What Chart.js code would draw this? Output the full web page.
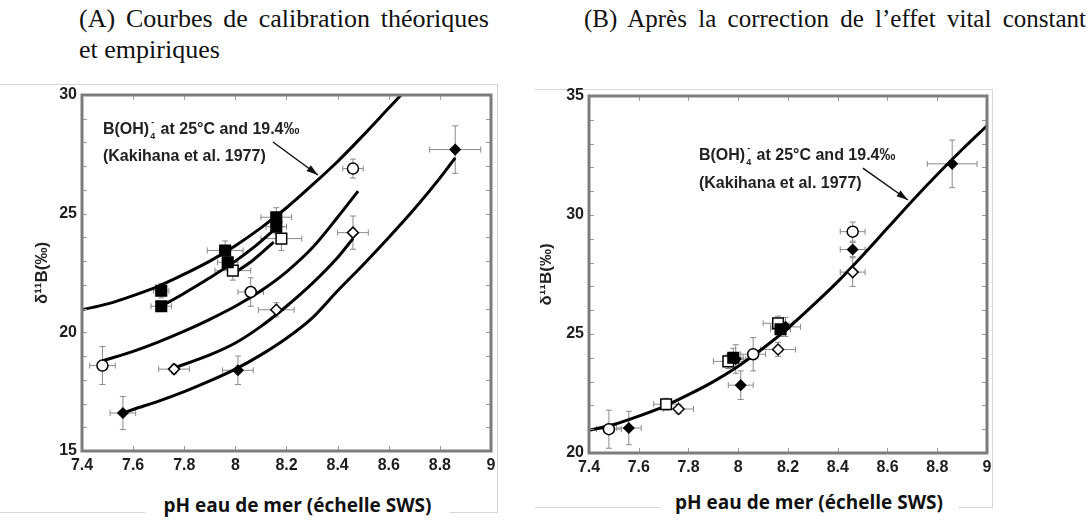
<!DOCTYPE html>
<html>
<head>
<meta charset="utf-8">
<script src="https://cdn.jsdelivr.net/npm/chart.js@4.4.0/dist/chart.umd.min.js"></script>
<style>
  body { margin: 0; width: 1091px; height: 521px; background: #fff; position: relative; overflow: hidden; }
  .titre { position: absolute; font-family: "Liberation Serif", "Times New Roman", serif; color: #111; line-height: 31px; white-space: nowrap; }
  .just { text-align: justify; text-align-last: justify; }
  .cadre { position: absolute; border: 1px solid #d6d6d6; }
  .xt { position: absolute; background: #fff; font-family: "Open Sans", sans-serif; font-weight: 700; font-size: 19px; color: #111; text-align: center; height: 30px; line-height: 30px; }
  canvas { position: absolute; }
</style>
</head>
<body>
<div class="titre just" style="left:79px; top:3px; width:410px; font-size:26px;">(A) Courbes de calibration théoriques</div>
<div class="titre" style="left:79px; top:34px; font-size:26px;">et empiriques</div>
<div class="titre just" style="left:584px; top:3px; width:502px; font-size:25px;">(B) Après la correction de l’effet vital constant</div>

<div class="cadre" style="left:-1px; top:84px; width:498px; height:427px; border-left:none;"></div>
<div class="cadre" style="left:535px; top:89px; width:457px; height:417px; border-left:none;"></div>

<canvas id="gA" width="540" height="400" style="left:0; top:80px;"></canvas>
<canvas id="gB" width="551" height="400" style="left:540px; top:80px;"></canvas>

<div class="xt" style="left:145px; top:490px; width:305px;">pH eau de mer (échelle SWS)</div>
<div class="xt" style="left:660px; top:487px; width:298px;">pH eau de mer (échelle SWS)</div>

<script>
// ========= Axes =========
const xTicks = [7.4, 7.6, 7.8, 8, 8.2, 8.4, 8.6, 8.8, 9];
const yTicksA = [15, 20, 25, 30];
const yTicksB = [20, 25, 30, 35];

// ========= Courbe théorique B(OH)4- (Kakihana et al. 1977) =========
const kakPH = [7.4, 7.5, 7.6, 7.7, 7.8, 7.9, 8.0, 8.1, 8.2, 8.3, 8.4, 8.5, 8.6, 8.7, 8.8, 8.9, 9.0];
const kakD11B = [20.95, 21.2, 21.55, 21.95, 22.45, 23.0, 23.65, 24.4, 25.25, 26.2, 27.2, 28.3, 29.45, 30.6, 31.7, 32.75, 33.75];

// ========= (A) courbes empiriques =========
const cCarrePH = [7.71, 7.8, 7.9, 8.0, 8.08, 8.16];
const cCarreD = [21.1, 21.65, 22.3, 23.0, 23.65, 24.4];
const cCarreVidePH = [7.99, 8.07, 8.15];
const cCarreVideD = [22.45, 23.05, 23.8];
const cRondPH = [7.48, 7.6, 7.7, 7.8, 7.9, 8.0, 8.1, 8.2, 8.3, 8.4, 8.48];
const cRondD = [18.8, 19.2, 19.6, 20.05, 20.55, 21.1, 21.75, 22.55, 23.55, 24.85, 25.95];
const cLosVidePH = [7.76, 7.9, 8.0, 8.1, 8.2, 8.3, 8.4, 8.46];
const cLosVideD = [18.5, 19.05, 19.55, 20.25, 21.1, 22.05, 23.15, 23.95];
const cLosPleinPH = [7.56, 7.6, 7.7, 7.8, 7.9, 8.0, 8.1, 8.2, 8.3, 8.4, 8.5, 8.6, 8.7, 8.8, 8.86];
const cLosPleinD = [16.6, 16.75, 17.1, 17.5, 17.95, 18.45, 19.05, 19.75, 20.6, 21.75, 22.85, 24.0, 25.2, 26.5, 27.35];

// ========= (A) mesures (valeur, erreur x, erreur y) =========
const aLosPleinPH = [7.56, 8.01, 8.86];
const aLosPleinD = [16.6, 18.4, 27.7];
const aLosPleinEx = [0.05, 0.06, 0.1];
const aLosPleinEy = [0.7, 0.6, 1.0];

const aRondPH = [7.48, 8.06, 8.46];
const aRondD = [18.6, 21.7, 26.9];
const aRondEx = [0.05, 0.05, 0.04];
const aRondEy = [0.8, 0.6, 0.4];

const aLosVidePH = [7.76, 8.16, 8.46];
const aLosVideD = [18.45, 20.95, 24.2];
const aLosVideEx = [0.06, 0.07, 0.06];
const aLosVideEy = [0.2, 0.3, 0.7];

const aCarreHautPH = [7.71, 7.96, 8.16];
const aCarreHautD = [21.75, 23.45, 24.85];
const aCarreHautEx = [0.03, 0.07, 0.06];
const aCarreHautEy = [0.3, 0.4, 0.4];

const aCarreBasPH = [7.71, 7.97, 8.16];
const aCarreBasD = [21.1, 22.95, 24.45];
const aCarreBasEx = [0.04, 0.04, 0.04];
const aCarreBasEy = [0.2, 0.3, 0.3];

const aCarreVidePH = [7.99, 8.18];
const aCarreVideD = [22.6, 23.95];
const aCarreVideEx = [0.07, 0.08];
const aCarreVideEy = [0.4, 0.5];

// ========= (B) mesures corrigées =========
const bLosPleinPH = [7.56, 7.99, 8.01, 8.19, 8.46, 8.86];
const bLosPleinD = [21.05, 23.95, 22.85, 25.3, 28.55, 32.15];
const bLosPleinEx = [0.05, 0.04, 0.05, 0.06, 0.05, 0.1];
const bLosPleinEy = [0.7, 0.6, 0.6, 0.4, 0.3, 1.0];

const bRondPH = [7.48, 8.06, 8.46];
const bRondD = [21.0, 24.15, 29.3];
const bRondEx = [0.05, 0.05, 0.05];
const bRondEy = [0.8, 0.7, 0.4];

const bLosVidePH = [7.76, 8.16, 8.46];
const bLosVideD = [21.85, 24.35, 27.6];
const bLosVideEx = [0.06, 0.07, 0.05];
const bLosVideEy = [0.2, 0.3, 0.6];

const bCarrePleinPH = [7.98, 8.17];
const bCarrePleinD = [24.0, 25.2];
const bCarrePleinEx = [0.04, 0.04];
const bCarrePleinEy = [0.4, 0.3];

const bCarreVidePH = [7.71, 7.96, 8.16];
const bCarreVideD = [22.05, 23.85, 25.45];
const bCarreVideEx = [0.05, 0.06, 0.06];
const bCarreVideEy = [0.25, 0.3, 0.3];

// ========= Styles des marqueurs =========
const LOS_PLEIN = { forme: "rectRot", r: 5, plein: true };
const LOS_VIDE = { forme: "rectRot", r: 5.5, plein: false };
const ROND = { forme: "circle", r: 5.5, plein: false };
const CARRE_PLEIN = { forme: "rect", r: 7.5, plein: true };
const CARRE_VIDE = { forme: "rect", r: 7.5, plein: false };

const POLICE = "'Liberation Sans', Arial, sans-serif";

// série de points avec barres d'erreur
function serie(xs, ys, ex, ey, st) {
  return {
    data: xs.map((x, i) => ({ x, y: ys[i] })),
    ex, ey,
    showLine: false,
    pointStyle: st.forme,
    pointRadius: st.r,
    pointBackgroundColor: st.plein ? "#000" : "#fff",
    pointBorderColor: "#000",
    pointBorderWidth: 1.5,
  };
}

// courbe lissée
function courbe(xs, ys) {
  return {
    data: xs.map((x, i) => ({ x, y: ys[i] })),
    showLine: true,
    borderColor: "#000",
    borderWidth: 3,
    pointRadius: 0,
    cubicInterpolationMode: "monotone",
    fill: false,
  };
}

// ========= Plugins : barres d'erreur, cadre, annotation =========
const barresErreur = {
  id: "barresErreur",
  beforeDatasetsDraw(chart) {
    const { ctx, scales: { x, y } } = chart;
    ctx.save();
    ctx.strokeStyle = "#8a8a8a";
    ctx.lineWidth = 1;
    chart.data.datasets.forEach((ds) => {
      if (!ds.ex) return;
      ds.data.forEach((p, i) => {
        const px = x.getPixelForValue(p.x), py = y.getPixelForValue(p.y);
        const x0 = x.getPixelForValue(p.x - ds.ex[i]), x1 = x.getPixelForValue(p.x + ds.ex[i]);
        const y0 = y.getPixelForValue(p.y - ds.ey[i]), y1 = y.getPixelForValue(p.y + ds.ey[i]);
        ctx.beginPath();
        ctx.moveTo(x0, py); ctx.lineTo(x1, py);
        ctx.moveTo(x0, py - 3); ctx.lineTo(x0, py + 3);
        ctx.moveTo(x1, py - 3); ctx.lineTo(x1, py + 3);
        ctx.moveTo(px, y0); ctx.lineTo(px, y1);
        ctx.moveTo(px - 3, y0); ctx.lineTo(px + 3, y0);
        ctx.moveTo(px - 3, y1); ctx.lineTo(px + 3, y1);
        ctx.stroke();
      });
    });
    ctx.restore();
  },
};

const cadre = {
  id: "cadre",
  afterDraw(chart) {
    const { ctx, chartArea: a, scales: { x, y } } = chart;
    ctx.save();
    // petites graduations intérieures
    ctx.strokeStyle = "#9a9a9a";
    ctx.lineWidth = 1;
    ctx.beginPath();
    xTicks.forEach((v) => {
      const px = Math.round(x.getPixelForValue(v)) + 0.5;
      ctx.moveTo(px, a.bottom); ctx.lineTo(px, a.bottom - 5);
      ctx.moveTo(px, a.top); ctx.lineTo(px, a.top + 5);
    });
    for (let v = y.min; v <= y.max; v++) {
      const py = Math.round(y.getPixelForValue(v)) + 0.5;
      ctx.moveTo(a.left, py); ctx.lineTo(a.left + 5, py);
      ctx.moveTo(a.right, py); ctx.lineTo(a.right - 5, py);
    }
    ctx.stroke();
    // cadre gris
    ctx.strokeStyle = "#7c7c7c";
    ctx.lineWidth = 3;
    ctx.strokeRect(a.left, a.top, a.right - a.left, a.bottom - a.top);
    ctx.restore();
  },
};

// texte "B(OH)4- at 25°C ..." + flèche, positions en unités de données
function annotation(chart, o) {
  const { ctx, scales: { x, y } } = chart;
  const tx = x.getPixelForValue(o.tx);
  const t1 = y.getPixelForValue(o.ty1), t2 = y.getPixelForValue(o.ty2);
  ctx.save();
  ctx.fillStyle = "#222";
  ctx.textBaseline = "middle";
  ctx.font = "bold 16px " + POLICE;
  let cx = tx;
  ctx.fillText("B(OH)", cx, t1);
  cx += ctx.measureText("B(OH)").width + 1;
  ctx.font = "bold 9px " + POLICE;
  ctx.fillText("4", cx, t1 + 7);
  ctx.fillText("-", cx + 1, t1 - 7);
  cx += ctx.measureText("4").width + 1;
  ctx.font = "bold 16px " + POLICE;
  ctx.fillText(" at 25°C and 19.4‰", cx, t1);
  ctx.fillText("(Kakihana et al. 1977)", tx, t2);
  // flèche
  const ax0 = x.getPixelForValue(o.ax0), ay0 = y.getPixelForValue(o.ay0);
  const ax1 = x.getPixelForValue(o.ax1), ay1 = y.getPixelForValue(o.ay1);
  ctx.strokeStyle = "#111";
  ctx.lineWidth = 1.5;
  ctx.beginPath(); ctx.moveTo(ax0, ay0); ctx.lineTo(ax1, ay1); ctx.stroke();
  const ang = Math.atan2(ay1 - ay0, ax1 - ax0);
  ctx.fillStyle = "#111";
  ctx.beginPath();
  ctx.moveTo(ax1, ay1);
  ctx.lineTo(ax1 - 12 * Math.cos(ang - 0.3), ay1 - 12 * Math.sin(ang - 0.3));
  ctx.lineTo(ax1 - 12 * Math.cos(ang + 0.3), ay1 - 12 * Math.sin(ang + 0.3));
  ctx.closePath(); ctx.fill();
  ctx.restore();
}

// libellés sans zéro inutile : 8 et 9 au lieu de 8.0 et 9.0
const libelle = (v) => String(Math.round(v * 10) / 10);

// ========= Configuration commune =========
function config(datasets, yMin, yMax, yTicks, pad, yW, xH, titrePad, annot) {
  const police = { family: POLICE, size: 16, weight: "bold" };
  return {
    type: "scatter",
    data: { datasets },
    options: {
      responsive: false,
      animation: false,
      devicePixelRatio: 1,
      layout: { padding: pad },
      plugins: { legend: { display: false }, tooltip: { enabled: false } },
      scales: {
        x: {
          type: "linear", min: 7.4, max: 9,
          grid: { display: false, drawTicks: false },
          border: { display: false },
          afterBuildTicks: (s) => { s.ticks = xTicks.map((v) => ({ value: v })); },
          afterFit: (s) => { s.height = xH; },
          ticks: { padding: 5, color: "#1e1e1e", font: police, maxRotation: 0, autoSkip: false, callback: libelle },
        },
        y: {
          type: "linear", min: yMin, max: yMax,
          grid: { display: false, drawTicks: false },
          border: { display: false },
          afterBuildTicks: (s) => { s.ticks = yTicks.map((v) => ({ value: v })); },
          afterFit: (s) => { s.width = yW; },
          ticks: { padding: 5, color: "#1e1e1e", font: police, callback: libelle },
          title: { display: true, text: "δ¹¹B(‰)", color: "#222", padding: { top: titrePad, bottom: 0 }, font: { family: POLICE, size: 17, weight: "bold" } },
        },
      },
    },
    plugins: [barresErreur, cadre, { id: "annot", afterDatasetsDraw: (c) => annotation(c, annot) }],
  };
}

// ========= Panneau A =========
new Chart(document.getElementById("gA"), config(
  [
    serie(aLosPleinPH, aLosPleinD, aLosPleinEx, aLosPleinEy, LOS_PLEIN),
    serie(aRondPH, aRondD, aRondEx, aRondEy, ROND),
    serie(aLosVidePH, aLosVideD, aLosVideEx, aLosVideEy, LOS_VIDE),
    serie(aCarreHautPH, aCarreHautD, aCarreHautEx, aCarreHautEy, CARRE_PLEIN),
    serie(aCarreBasPH, aCarreBasD, aCarreBasEx, aCarreBasEy, CARRE_PLEIN),
    serie(aCarreVidePH, aCarreVideD, aCarreVideEx, aCarreVideEy, CARRE_VIDE),
    courbe(kakPH, kakD11B),
    courbe(cCarrePH, cCarreD),
    courbe(cCarreVidePH, cCarreVideD),
    courbe(cRondPH, cRondD),
    courbe(cLosVidePH, cLosVideD),
    courbe(cLosPleinPH, cLosPleinD),
  ],
  15, 30, yTicksA,
  { left: 0, right: 49, top: 15, bottom: 0 }, 82, 29, 32,
  { tx: 7.482, ty1: 28.53, ty2: 27.39, ax0: 8.147, ay0: 28.02, ax1: 8.323, ay1: 26.63 }
));

// ========= Panneau B =========
new Chart(document.getElementById("gB"), config(
  [
    serie(bLosPleinPH, bLosPleinD, bLosPleinEx, bLosPleinEy, LOS_PLEIN),
    serie(bRondPH, bRondD, bRondEx, bRondEy, ROND),
    serie(bLosVidePH, bLosVideD, bLosVideEx, bLosVideEy, LOS_VIDE),
    serie(bCarrePleinPH, bCarrePleinD, bCarrePleinEx, bCarrePleinEy, CARRE_PLEIN),
    serie(bCarreVidePH, bCarreVideD, bCarreVideEx, bCarreVideEy, CARRE_VIDE),
    courbe(kakPH, kakD11B),
  ],
  20, 35, yTicksB,
  { left: 0, right: 104, top: 16, bottom: 0 }, 49, 27, -4,
  { tx: 7.842, ty1: 32.48, ty2: 31.34, ax0: 8.501, ay0: 31.97, ax1: 8.682, ay1: 30.63 }
));
</script>
</body>
</html>
